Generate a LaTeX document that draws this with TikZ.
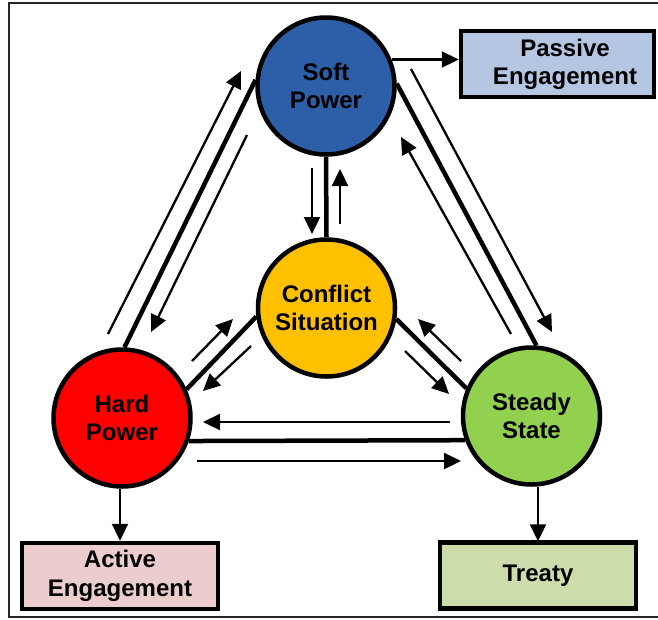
\documentclass[tikz,border=0pt]{standalone}
\usepackage{fontspec}
\setmainfont{Liberation Sans}
\usetikzlibrary{arrows.meta}
\definecolor{softblue}{RGB}{45,95,168}
\definecolor{confyellow}{RGB}{255,192,0}
\definecolor{hardred}{RGB}{255,0,0}
\definecolor{steadygreen}{RGB}{146,208,80}
\definecolor{passblue}{RGB}{180,198,226}
\definecolor{actpink}{RGB}{235,205,205}
\definecolor{treatygreen}{RGB}{204,220,170}
\begin{document}
\begin{tikzpicture}[x=1pt,y=-1pt,
  lbl/.style={align=center,inner sep=0pt,font=\fontsize{24}{28.5}\selectfont\bfseries},
  circ/.style={lbl,circle,draw,line width=4.5pt,minimum size=137pt},
  boxn/.style={lbl,rectangle,draw,line width=4.5pt,minimum width=196pt,minimum height=66pt},
  bond/.style={line width=4.5pt},
  arr/.style={line width=2.3pt,-{Triangle[length=17pt,width=16pt]}},
  frame/.style={line width=1.6pt,draw=black!85}]
\useasboundingbox (0,0) rectangle (658,619);
\draw[frame] (670,3) -- (9,3) -- (9,617) -- (670,617);

% circles
\node[circ,fill=softblue] (sp) at (326,86) {Soft\\Power};
\node[circ,fill=confyellow] (cs) at (326.5,308) {Conflict\\Situation};
\node[circ,fill=hardred] (hp) at (122,418) {Hard\\Power};
\node[circ,fill=steadygreen] (ss) at (531.5,416) {Steady\\State};

% boxes
\node[boxn,minimum width=193pt,fill=passblue] (pe) at (557.5,64) {};
\node[lbl] (pet) at (565,64.5) {Passive\\Engagement};
\node[boxn,fill=actpink] (ae) at (120,576) {Active\\Engagement};
\node[boxn,fill=treatygreen] (tr) at (538,575.5) {Treaty};

% thick bonds
\draw[bond] (hp.88) -- (sp.175);
\draw[bond] (sp.2.5) -- (ss.86);
\draw[bond] (sp.south) -- (cs.north);
\draw[bond] (hp.24) -- (cs.187);
\draw[bond] (cs.-9) -- (ss.157.6);
\draw[bond] (hp.-19) -- (ss.200);

% outputs
\draw[arr] (sp.22) -- (sp.22 -| pe.west);
\draw[arr] (ae.north |- hp.south) -- (ae.north);
\draw[arr] (tr.north |- ss.south) -- ([yshift=-1pt]tr.north);

% thin arrows
\coordinate (a1s) at (108,334);  \coordinate (a1e) at (241,71);
\coordinate (a2s) at (247,135);  \coordinate (a2e) at (151,332);
\coordinate (a3s) at (411,69);   \coordinate (a3e) at (552,332);
\coordinate (a4s) at (511,334);  \coordinate (a4e) at (401,137);
\coordinate (a5s) at (312,168);  \coordinate (a5e) at (312,234);
\coordinate (a6s) at (340,224);  \coordinate (a6e) at (340,169);
\coordinate (a7s) at (192,361);  \coordinate (a7e) at (233,319);
\coordinate (a8s) at (251,346);  \coordinate (a8e) at (203,391);
\coordinate (a9s) at (405,351);  \coordinate (a9e) at (449,394);
\coordinate (a10s) at (461,361); \coordinate (a10e) at (418,319);
\coordinate (a11s) at (450,422); \coordinate (a11e) at (203,422);
\coordinate (a12s) at (197,461); \coordinate (a12e) at (461,461);
\foreach \i in {1,...,12} {\draw[arr] (a\i s) -- (a\i e);}
\end{tikzpicture}
\end{document}
